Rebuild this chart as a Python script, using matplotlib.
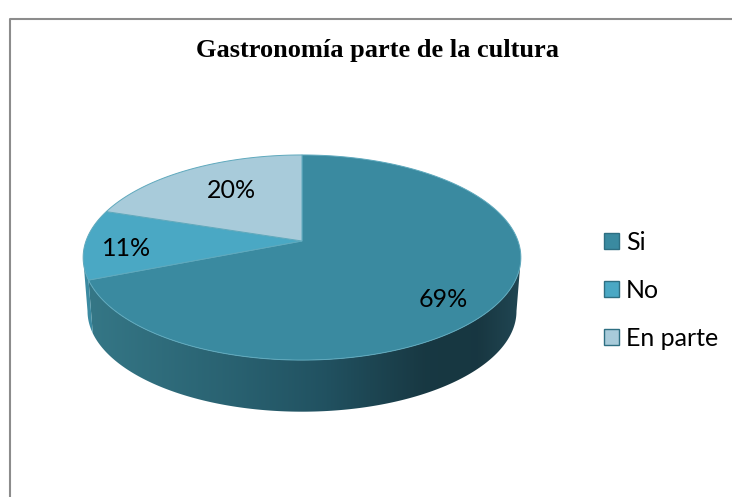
import numpy as np
import matplotlib.pyplot as plt
from matplotlib.patches import Polygon, Patch
from matplotlib.colors import LinearSegmentedColormap

# Data
categories = ["Si", "No", "En parte"]
values = [69, 11, 20]
top_colors = ["#3a8aa0", "#4aa8c4", "#a8cbda"]
side_colors = ["#2f7184", "#3b8aa1", "#86a9b6"]
title = "Gastronomía parte de la cultura"

# Pie geometry in pixel units (perspective ellipse)
CX, CY = 302, 241
A, B, K = 216, 99.9, 0.161
DROP, SHRINK = 54, 0.98

label_r = [0.74, 0.81, 0.60]
label_dy = [14, 5, -6]


def project(phi_deg, r=1.0, drop=0.0, shrink=1.0):
    """Clockwise angle from 12 o'clock -> pixel coords on the tilted disc."""
    phi = np.radians(phi_deg)
    u = r * np.sin(phi)
    v = -r * np.cos(phi)
    d = 1 - K * v
    return CX + A * shrink * u / d, CY + drop + B * shrink * v / d


fig = plt.figure(figsize=(7.32, 4.97), dpi=100)
ax = fig.add_axes([0, 0, 1, 1])
ax.axis("off")

total = sum(values)
bounds = np.concatenate([[0], np.cumsum(values) / total * 360])

# silhouette of the visible front wall
vis_lo = np.degrees(np.arccos(-K))
vis_hi = 360 - vis_lo

side_cmap = LinearSegmentedColormap.from_list("side", [
    (0.0, (0.21, 0.47, 0.53)),
    (0.35, (0.16, 0.38, 0.44)),
    (0.55, (0.13, 0.32, 0.38)),
    (0.78, (0.094, 0.22, 0.26)),
    (0.9, (0.094, 0.215, 0.255)),
    (1.0, (0.13, 0.28, 0.33)),
])

for i in range(len(values)):
    a0 = max(bounds[i], vis_lo)
    a1 = min(bounds[i + 1], vis_hi)
    if a1 <= a0:
        continue
    ang = np.linspace(a0, a1, 200)
    tx, ty = project(ang)
    bx, by = project(ang[::-1], drop=DROP, shrink=SHRINK)
    pts = np.column_stack([np.concatenate([tx, bx]), np.concatenate([ty, by])])
    if i == 0:
        poly = Polygon(pts, closed=True, facecolor="none", edgecolor="none")
        ax.add_patch(poly)
        grad = np.linspace(0, 1, 256).reshape(1, -1)
        im = ax.imshow(grad, cmap=side_cmap, aspect="auto",
                       extent=[CX - A * 1.02, CX + A * 1.02, 430, 150], zorder=1)
        im.set_clip_path(poly)
    else:
        ax.add_patch(Polygon(pts, closed=True, facecolor=side_colors[i],
                             edgecolor="none", zorder=1))

# top faces
for i in range(len(values)):
    ang = np.linspace(bounds[i], bounds[i + 1], 200)
    px, py = project(ang)
    pts = np.column_stack([np.concatenate([[CX], px]), np.concatenate([[CY], py])])
    ax.add_patch(Polygon(pts, closed=True, facecolor=top_colors[i],
                         edgecolor="#5fa9bd", linewidth=0.7, zorder=2))

# percentage labels
for i, val in enumerate(values):
    mid = (bounds[i] + bounds[i + 1]) / 2
    lx, ly = project(mid, r=label_r[i])
    ax.text(lx, ly + label_dy[i], f"{round(val / total * 100)}%", fontsize=18,
            family="Lato", ha="center", va="center", color="black", zorder=3)

ax.text(378, 50, title, fontsize=19, family="Liberation Serif", fontweight="bold",
        ha="center", va="center")

# chart frame (only left and top edges visible)
ax.plot([10, 10, 732], [497, 19, 19], color="#8c8c8c", linewidth=1.5, zorder=0)

handles = [Patch(facecolor=c, edgecolor="#2e6f82", linewidth=1.0) for c in top_colors]
leg = ax.legend(handles, categories, loc="upper left",
                bbox_to_anchor=(591 / 732, 1 - 218 / 497),
                frameon=False, prop={"family": "Lato", "size": 18},
                handlelength=0.6, handleheight=0.6, handletextpad=0.3,
                labelspacing=1.0, borderpad=0)

ax.set_xlim(0, 732)
ax.set_ylim(497, 0)

fig.savefig("out.png", dpi=100)
